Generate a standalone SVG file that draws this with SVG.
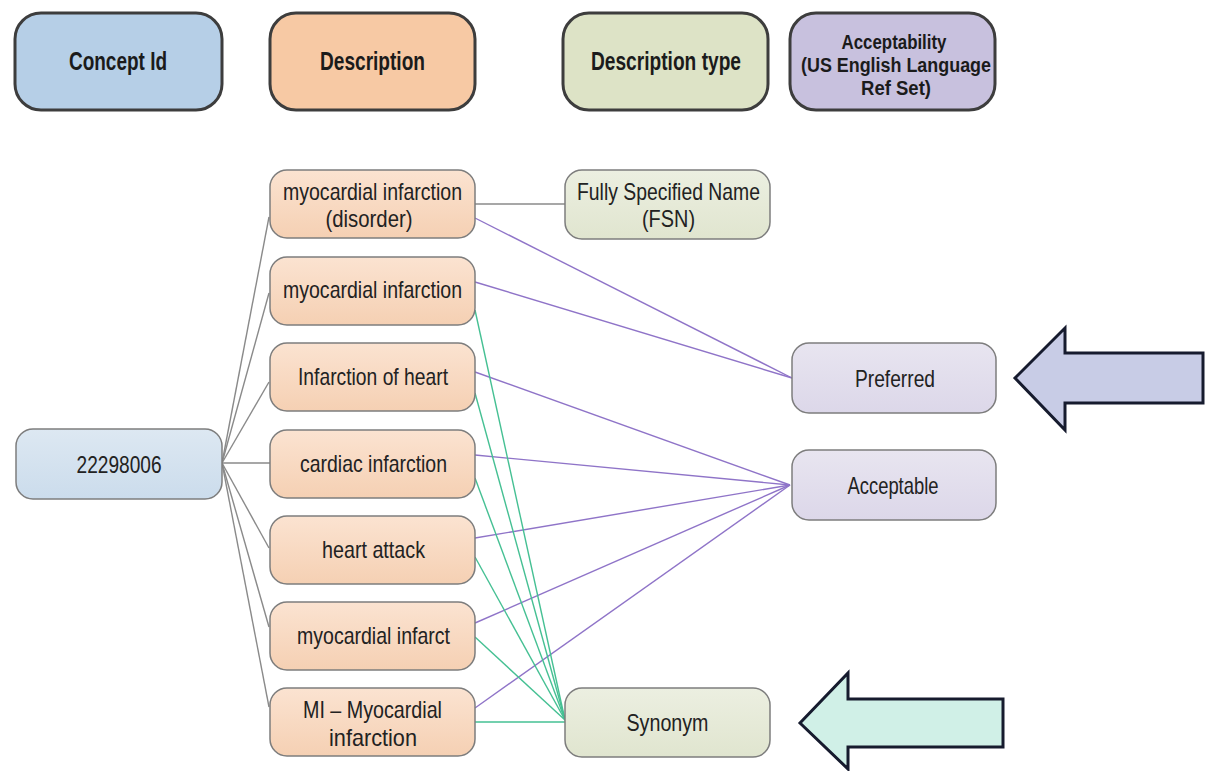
<svg xmlns="http://www.w3.org/2000/svg" width="1213" height="771" viewBox="0 0 1213 771">
<defs>
<linearGradient id="gBlue" x1="0" y1="0" x2="0" y2="1"><stop offset="0" stop-color="#dde8f2"/><stop offset="1" stop-color="#cbdcec"/></linearGradient>
<linearGradient id="gPeach" x1="0" y1="0" x2="0" y2="1"><stop offset="0" stop-color="#fbe3d1"/><stop offset="1" stop-color="#f5d0b3"/></linearGradient>
<linearGradient id="gOlive" x1="0" y1="0" x2="0" y2="1"><stop offset="0" stop-color="#ecefe1"/><stop offset="1" stop-color="#e0e5cf"/></linearGradient>
<linearGradient id="gLav" x1="0" y1="0" x2="0" y2="1"><stop offset="0" stop-color="#e8e5f0"/><stop offset="1" stop-color="#dcd7e9"/></linearGradient>
</defs>
<style>
.hdr{stroke:#3d3d3d;stroke-width:3}
.nd{stroke:#7d7d7d;stroke-width:1.5}
.t{font-family:"Liberation Sans",Arial,sans-serif;font-size:24px;fill:#222;text-anchor:middle}
.tb{font-family:"Liberation Sans",Arial,sans-serif;font-size:25px;font-weight:bold;fill:#1b1b1b;text-anchor:middle}
.tb2{font-family:"Liberation Sans",Arial,sans-serif;font-size:20px;font-weight:bold;fill:#1b1b1b;text-anchor:middle}
.cg{stroke:#8a8a8a;stroke-width:1.4;fill:none}
.cp{stroke:#8f74c8;stroke-width:1.4;fill:none}
.cn{stroke:#45c093;stroke-width:1.4;fill:none}
.arr{stroke:#161b2e;stroke-width:3;stroke-linejoin:miter}
</style>
<rect width="1213" height="771" fill="#ffffff"/>

<g id="connectors">
<line class="cg" x1="222" y1="463" x2="269" y2="217"/>
<line class="cg" x1="222" y1="463" x2="269" y2="293"/>
<line class="cg" x1="222" y1="463" x2="269" y2="382"/>
<line class="cg" x1="222" y1="463" x2="270" y2="463"/>
<line class="cg" x1="222" y1="463" x2="269" y2="548"/>
<line class="cg" x1="222" y1="463" x2="269" y2="627"/>
<line class="cg" x1="222" y1="463" x2="269" y2="707"/>
<line class="cg" x1="475" y1="204" x2="565" y2="204"/>
<line class="cp" x1="475" y1="218" x2="792" y2="378"/>
<line class="cp" x1="475" y1="282" x2="792" y2="378"/>
<line class="cp" x1="475" y1="372" x2="790" y2="485"/>
<line class="cp" x1="475" y1="455" x2="790" y2="485"/>
<line class="cp" x1="475" y1="538" x2="790" y2="485"/>
<line class="cp" x1="475" y1="623" x2="790" y2="485"/>
<line class="cp" x1="475" y1="708" x2="790" y2="485"/>
<line class="cn" x1="475" y1="310" x2="565" y2="720"/>
<line class="cn" x1="475" y1="393" x2="565" y2="720"/>
<line class="cn" x1="475" y1="478" x2="565" y2="720"/>
<line class="cn" x1="475" y1="557" x2="565" y2="720"/>
<line class="cn" x1="475" y1="637" x2="565" y2="720"/>
<line class="cn" x1="475" y1="722" x2="565" y2="722" stroke-width="2"/>
</g>

<g id="hdr-concept">
<rect class="hdr" x="15" y="13" width="207" height="97" rx="26" fill="#b6cfe7"/>
<text class="tb" x="118" y="70" textLength="98" lengthAdjust="spacingAndGlyphs">Concept Id</text>
</g>
<g id="hdr-description">
<rect class="hdr" x="270" y="13" width="205" height="97" rx="26" fill="#f7c9a4"/>
<text class="tb" x="372.5" y="70" textLength="105" lengthAdjust="spacingAndGlyphs">Description</text>
</g>
<g id="hdr-desctype">
<rect class="hdr" x="563" y="13" width="205" height="97" rx="26" fill="#dde3c6"/>
<text class="tb" x="666" y="70" textLength="150" lengthAdjust="spacingAndGlyphs">Description type</text>
</g>
<g id="hdr-acceptability">
<rect class="hdr" x="790" y="13" width="205" height="97" rx="26" fill="#c8c1de"/>
<text class="tb2" x="894" y="49" textLength="105" lengthAdjust="spacingAndGlyphs">Acceptability</text>
<text class="tb2" x="896" y="72" textLength="190" lengthAdjust="spacingAndGlyphs">(US English Language</text>
<text class="tb2" x="896" y="95" textLength="70" lengthAdjust="spacingAndGlyphs">Ref Set)</text>
</g>

<g id="concept-22298006">
<rect class="nd" x="16" y="429" width="206" height="70" rx="17" fill="url(#gBlue)"/>
<text class="t" x="119" y="473" textLength="85" lengthAdjust="spacingAndGlyphs">22298006</text>
</g>

<g id="desc-1">
<rect class="nd" x="270" y="170" width="205" height="68" rx="17" fill="url(#gPeach)"/>
<text class="t" x="372.5" y="200" textLength="179" lengthAdjust="spacingAndGlyphs">myocardial infarction</text>
<text class="t" x="369" y="227" textLength="87" lengthAdjust="spacingAndGlyphs">(disorder)</text>
</g>
<g id="desc-2">
<rect class="nd" x="270" y="257" width="205" height="68" rx="17" fill="url(#gPeach)"/>
<text class="t" x="372.5" y="298" textLength="179" lengthAdjust="spacingAndGlyphs">myocardial infarction</text>
</g>
<g id="desc-3">
<rect class="nd" x="270" y="343" width="205" height="68" rx="17" fill="url(#gPeach)"/>
<text class="t" x="373" y="385" textLength="150" lengthAdjust="spacingAndGlyphs">Infarction of heart</text>
</g>
<g id="desc-4">
<rect class="nd" x="270" y="430" width="205" height="68" rx="17" fill="url(#gPeach)"/>
<text class="t" x="373.5" y="472" textLength="147" lengthAdjust="spacingAndGlyphs">cardiac infarction</text>
</g>
<g id="desc-5">
<rect class="nd" x="270" y="516" width="205" height="68" rx="17" fill="url(#gPeach)"/>
<text class="t" x="373.5" y="558" textLength="103" lengthAdjust="spacingAndGlyphs">heart attack</text>
</g>
<g id="desc-6">
<rect class="nd" x="270" y="602" width="205" height="68" rx="17" fill="url(#gPeach)"/>
<text class="t" x="373.5" y="644" textLength="153" lengthAdjust="spacingAndGlyphs">myocardial infarct</text>
</g>
<g id="desc-7">
<rect class="nd" x="270" y="688" width="205" height="68" rx="17" fill="url(#gPeach)"/>
<text class="t" x="372.5" y="718" textLength="139" lengthAdjust="spacingAndGlyphs">MI – Myocardial</text>
<text class="t" x="373" y="746" textLength="88" lengthAdjust="spacingAndGlyphs">infarction</text>
</g>

<g id="type-fsn">
<rect class="nd" x="565" y="170" width="205" height="69" rx="17" fill="url(#gOlive)"/>
<text class="t" x="668.5" y="200" textLength="183" lengthAdjust="spacingAndGlyphs">Fully Specified Name</text>
<text class="t" x="668.5" y="227" textLength="53" lengthAdjust="spacingAndGlyphs">(FSN)</text>
</g>
<g id="type-synonym">
<rect class="nd" x="565" y="688" width="205" height="69" rx="17" fill="url(#gOlive)"/>
<text class="t" x="667.5" y="731" textLength="82" lengthAdjust="spacingAndGlyphs">Synonym</text>
</g>

<g id="acc-preferred">
<rect class="nd" x="792" y="343" width="204" height="70" rx="17" fill="url(#gLav)"/>
<text class="t" x="895" y="387" textLength="80" lengthAdjust="spacingAndGlyphs">Preferred</text>
</g>
<g id="acc-acceptable">
<rect class="nd" x="792" y="450" width="204" height="70" rx="17" fill="url(#gLav)"/>
<text class="t" x="893" y="494" textLength="91" lengthAdjust="spacingAndGlyphs">Acceptable</text>
</g>

<g id="arrow-preferred">
<polygon class="arr" fill="#c8cce6" points="1015,378 1065,328 1065,353 1203,353 1203,403 1065,403 1065,430"/>
</g>
<g id="arrow-synonym">
<polygon class="arr" fill="#d0f0e7" points="800,723 848,673 848,699 1003,699 1003,747 848,747 848,769"/>
</g>
</svg>
